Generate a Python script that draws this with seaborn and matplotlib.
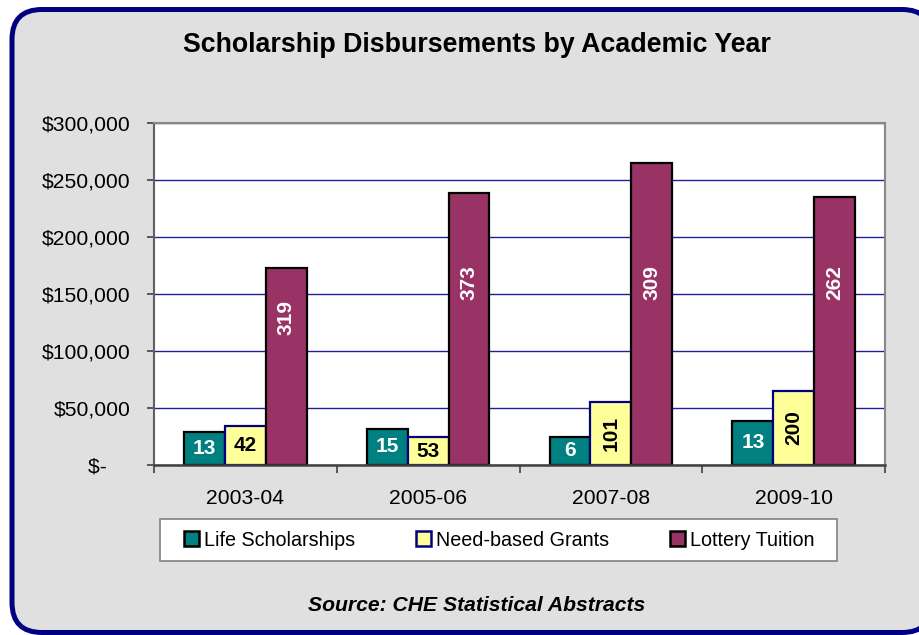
import pandas as pd
import matplotlib.pyplot as plt
import matplotlib.patches as mpatches
from matplotlib.transforms import IdentityTransform
from matplotlib.ticker import FuncFormatter
import seaborn as sns

years = ['2003-04', '2005-06', '2007-08', '2009-10']
series = ['Life Scholarships', 'Need-based Grants', 'Lottery Tuition']
life_dollars = [29200, 31600, 24800, 38900]
need_dollars = [34200, 24300, 55000, 65000]
lottery_dollars = [173000, 239000, 265000, 235500]
life_counts = ['13', '15', '6', '13']
need_counts = ['42', '53', '101', '200']
lottery_counts = ['319', '373', '309', '262']

colors = ['#008080', '#FFFF99', '#993366']
edges = ['#000000', '#000080', '#000000']
label_colors = ['white', 'black', 'white']

df = pd.DataFrame({
    'year': years * 3,
    'series': [s for s in series for _ in years],
    'dollars': life_dollars + need_dollars + lottery_dollars,
})
counts = [life_counts, need_counts, lottery_counts]

sns.set_style('white')
plt.rcParams['font.family'] = ['Liberation Sans', 'DejaVu Sans']
plt.rcParams['text.color'] = 'black'
plt.rcParams['xtick.color'] = 'black'
plt.rcParams['ytick.color'] = 'black'

fig = plt.figure(figsize=(9.19, 6.35), dpi=100)
fig.patch.set_facecolor('white')

# rounded grey frame drawn in pixel coordinates, behind the axes
frame = mpatches.FancyBboxPatch((12, 2.5), 920, 623, boxstyle='round,pad=0,rounding_size=30',
                                facecolor='#e0e0e0', edgecolor='#000080', linewidth=3.6,
                                transform=IdentityTransform(), zorder=-10)
fig.patches.append(frame)

ax = fig.add_axes([0.1676, 0.2677, 0.7954, 0.5386])
sns.barplot(data=df, x='year', y='dollars', hue='series', palette=colors,
            width=0.67, saturation=1, ax=ax, legend=False)

for i, cont in enumerate(ax.containers):
    for bar, txt in zip(cont, counts[i]):
        bar.set_edgecolor(edges[i])
        bar.set_linewidth(1.6)
        h = bar.get_height()
        cx = bar.get_x() + bar.get_width() / 2
        rot = 90 if len(txt) >= 3 else 0
        y = min(h * 0.75, 160000) if i == 2 else h / 2
        ax.text(cx, y, txt, ha='center', va='center', rotation=rot,
                color=label_colors[i], fontsize=15, fontweight='bold')

ax.set_facecolor('white')
ax.set_ylim(0, 300000)
ax.set_xlim(-0.5, 3.5)
ax.set_yticks(range(0, 300001, 50000))
ax.yaxis.set_major_formatter(FuncFormatter(lambda v, p: '$-    ' if v == 0 else f'${v:,.0f}'))
ax.set_xticks(range(4))
ax.set_xticks([-0.5, 0.5, 1.5, 2.5, 3.5], minor=True)
ax.tick_params(axis='x', which='major', length=0, pad=17, labelsize=15.2)
ax.tick_params(axis='x', which='minor', length=6, width=1.2, color='#404040', direction='out', bottom=True)
ax.tick_params(axis='y', length=5, width=1.2, color='#404040', direction='out', left=True, pad=12, labelsize=15.2)
ax.set_xlabel('')
ax.set_ylabel('')
ax.grid(axis='y', color='#1f1f99', linewidth=1)
ax.set_axisbelow(True)
for side in ['top', 'right']:
    ax.spines[side].set_color('#888888')
    ax.spines[side].set_linewidth(1.5)
ax.spines['left'].set_color('#606060')
ax.spines['left'].set_linewidth(1.5)
ax.spines['bottom'].set_color('#404040')
ax.spines['bottom'].set_linewidth(1.8)

# legend box like the Excel one: wider than its entries
box = mpatches.Rectangle((160 / 919, 1 - 561 / 635), 677 / 919, 42 / 635, transform=fig.transFigure,
                         facecolor='white', edgecolor='#808080', linewidth=1.2, zorder=-5)
fig.patches.append(box)

handles = [mpatches.Patch(facecolor=c, edgecolor=e, linewidth=1.8, label=s)
           for c, e, s in zip(colors, edges, series)]
leg = fig.legend(handles=handles, loc='center', bbox_to_anchor=(0.543, 0.1496), ncol=3,
                 fontsize=14.2, frameon=False,
                 handlelength=0.75, handleheight=0.75, handletextpad=0.25, columnspacing=3.1)

fig.text(0.519, 0.929, 'Scholarship Disbursements by Academic Year', ha='center', va='center',
         fontsize=19.3, fontweight='bold')
fig.text(0.519, 0.046, 'Source: CHE Statistical Abstracts', ha='center', va='center',
         fontsize=15.2, fontweight='bold', fontstyle='italic')

fig.savefig('out.png', dpi=100)
